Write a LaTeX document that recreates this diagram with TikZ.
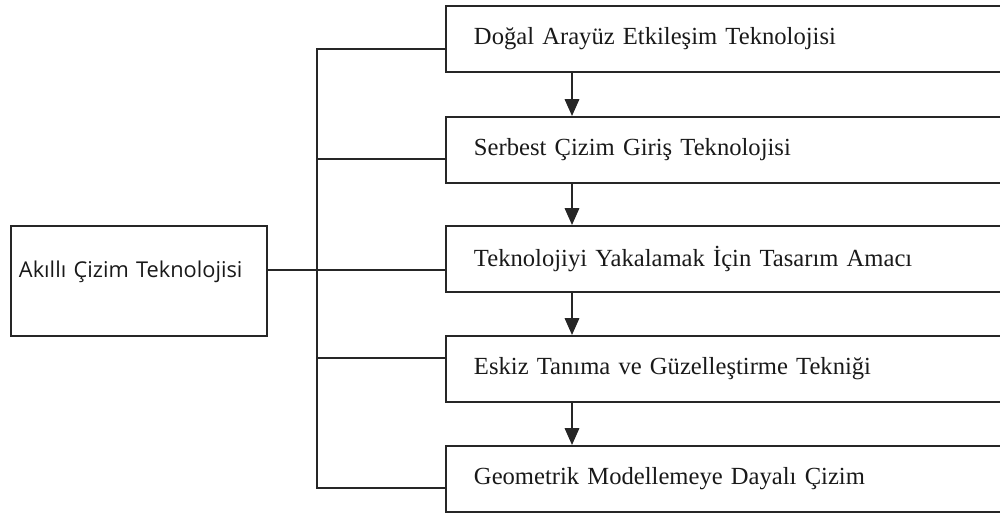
\documentclass[tikz,border=0pt]{standalone}
\usepackage{fontspec}
\setmainfont{Liberation Serif}
\newfontfamily\rootfont{Open Sans}
\usetikzlibrary{arrows.meta,positioning}

\begin{document}
\begin{tikzpicture}[
  x=0.025cm, y=-0.025cm,
  every node/.style = {text=black!90},
  stage/.style = {rectangle, draw=black!85, line width=1.4pt, anchor=north west,
    minimum width=14cm, minimum height=1.65cm, text width=12.6cm,
    inner xsep=0.675cm, align=left, font=\fontsize{17.5}{20}\selectfont},
  root/.style = {rectangle, draw=black!85, line width=1.4pt, anchor=north west,
    minimum width=6.4cm, minimum height=2.75cm, text width=6cm, inner xsep=0.2cm,
    align=left, text height=0.3cm, text depth=0.5cm,
    font=\rootfont\fontsize{15.5}{18}\selectfont},
  link/.style = {line width=1.4pt, draw=black!85},
  arr/.style = {link, -{Triangle[length=0.42cm, width=0.36cm]}}
]
\useasboundingbox (0,0) rectangle (1000,513);
\clip (0,0) rectangle (1000,513);

\node[root]  (akil) at (10,225)  {Akıllı Çizim Teknolojisi};
\node[stage] (doga) at (445,5)   {Doğal Arayüz Etkileşim Teknolojisi};
\node[stage] (serb) at (445,116) {Serbest Çizim Giriş Teknolojisi};
\node[stage] (yaka) at (445,225) {Teknolojiyi Yakalamak İçin Tasarım Amacı};
\node[stage] (eski) at (445,335) {Eskiz Tanıma ve Güzelleştirme Tekniği};
\node[stage] (geom) at (445,445) {Geometrik Modellemeye Dayalı Çizim};

% spine junctions
\coordinate (j1) at (317,49);
\coordinate (j2) at (317,159);
\coordinate (j3) at (317,270);
\coordinate (j4) at (317,358);
\coordinate (j5) at (317,488);
\coordinate (ax) at (572,0);

\draw[link] (j1 -| doga.west) -- (j1) -- (j5) -- (j5 -| geom.west);
\draw[link] (j2) -- (j2 -| serb.west);
\draw[link] (j4) -- (j4 -| eski.west);
\draw[link] (j3 -| akil.east) -- (j3 -| yaka.west);

\foreach \a/\b in {doga/serb, serb/yaka, yaka/eski, eski/geom}
  \draw[arr] (\a.south -| ax) -- (\b.north -| ax);
\end{tikzpicture}
\end{document}
